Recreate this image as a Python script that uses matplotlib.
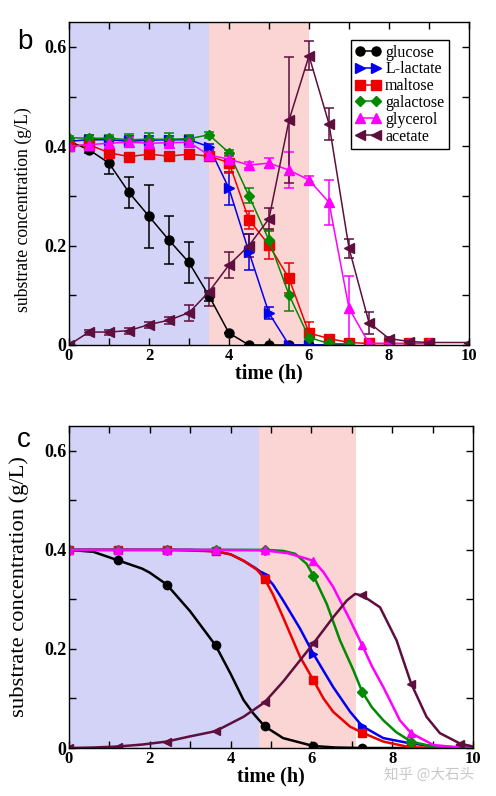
import numpy as np
import matplotlib
matplotlib.use('Agg')
import matplotlib.pyplot as plt
from matplotlib.lines import Line2D
from matplotlib.ticker import MultipleLocator, FuncFormatter

plt.rcParams['font.family'] = ['Liberation Serif', 'DejaVu Serif']

# ---- panel b: measured data (mean and error) ----
names = ['glucose', 'L-lactate', 'maltose', 'galactose', 'glycerol', 'acetate']
colors = ['black', '#0000ee', '#ee0000', '#008a00', '#ff00ff', '#5e0f3e']
markers = ['o', '>', 's', 'D', '^', '<']

t_glu = [0, 0.5, 1, 1.5, 2, 2.5, 3, 3.5, 4, 4.5, 5, 5.5, 6, 6.5, 7]
glucose = [0.41, 0.393, 0.366, 0.307, 0.259, 0.211, 0.166, 0.099, 0.024, 0, 0, 0, 0, 0, 0]
glucose_err = [0.005, 0.006, 0.021, 0.031, 0.063, 0.048, 0.041, 0.01, 0, 0, 0, 0, 0, 0, 0]

t_lac = [0, 0.5, 1, 1.5, 2, 2.5, 3, 3.5, 4, 4.5, 5, 5.5, 6, 6.5, 7]
lactate = [0.41, 0.413, 0.413, 0.41, 0.412, 0.413, 0.413, 0.399, 0.315, 0.187, 0.064, 0, 0, 0, 0]
lactate_err = [0.005, 0.01, 0.006, 0.01, 0.008, 0.008, 0.008, 0.006, 0.034, 0.037, 0.012, 0, 0, 0, 0]

t_mal = [0, 0.5, 1, 1.5, 2, 2.5, 3, 3.5, 4, 4.5, 5, 5.5, 6, 6.5, 7, 7.5, 8, 8.5, 9]
maltose = [0.40, 0.403, 0.387, 0.379, 0.384, 0.380, 0.384, 0.380, 0.367, 0.252, 0.201, 0.134,
           0.024, 0.013, 0.005, 0.003, 0.003, 0.003, 0.003]
maltose_err = [0.004, 0.005, 0.006, 0.008, 0.006, 0.005, 0.005, 0.006, 0.02, 0.018, 0.028, 0.03,
               0.023, 0.008, 0.003, 0, 0, 0, 0]

t_gal = [0, 0.5, 1, 1.5, 2, 2.5, 3, 3.5, 4, 4.5, 5, 5.5, 6, 6.5, 7]
galactose = [0.417, 0.416, 0.416, 0.413, 0.414, 0.414, 0.415, 0.423, 0.387, 0.300, 0.211, 0.101,
             0.015, 0.003, 0.002]
galactose_err = [0.004, 0.006, 0.006, 0.012, 0.012, 0.012, 0.008, 0.006, 0.006, 0.015, 0.02, 0.032,
                 0.006, 0, 0]

t_gly = [0, 0.5, 1, 1.5, 2, 2.5, 3, 3.5, 4, 4.5, 5, 5.5, 6, 6.5, 7, 7.5, 8, 8.5, 9]
glycerol = [0.40, 0.403, 0.406, 0.408, 0.406, 0.407, 0.408, 0.382, 0.374, 0.362, 0.366, 0.352,
            0.332, 0.287, 0.074, 0.003, 0.003, 0.003, 0.003]
glycerol_err = [0.004, 0.005, 0.006, 0.01, 0.008, 0.008, 0.006, 0.005, 0.006, 0.006, 0.01, 0.036,
                0.008, 0.046, 0.065, 0, 0, 0, 0]

t_ace = [0, 0.5, 1, 1.5, 2, 2.5, 3, 3.5, 4, 4.5, 5, 5.5, 6, 6.5, 7, 7.5, 8, 8.5, 9, 10]
acetate = [0, 0.026, 0.026, 0.029, 0.041, 0.050, 0.065, 0.107, 0.161, 0.200, 0.254, 0.452,
           0.582, 0.445, 0.195, 0.045, 0.013, 0.007, 0.005, 0.005]
acetate_err = [0, 0.005, 0.005, 0.006, 0.006, 0.007, 0.016, 0.028, 0.026, 0.023, 0.021, 0.127,
               0.029, 0.032, 0.019, 0.022, 0.004, 0, 0, 0]

meas = [(t_glu, glucose, glucose_err), (t_lac, lactate, lactate_err), (t_mal, maltose, maltose_err),
        (t_gal, galactose, galactose_err), (t_gly, glycerol, glycerol_err), (t_ace, acetate, acetate_err)]

# ---- panel c: model curves, markers every 1.21 h ----
t_marks = [0, 1.21, 2.42, 3.63, 4.84, 6.05, 7.26, 8.47, 9.68]

mt_glucose = [0, 0.605, 1.21, 1.815, 2.0, 2.42, 3.0, 3.63, 4.0, 4.32, 4.56, 4.84, 5.3, 6.05, 6.6,
              7.26, 8.47, 9.68, 10]
m_glucose = [0.40, 0.396, 0.379, 0.362, 0.354, 0.330, 0.276, 0.207, 0.150, 0.097, 0.070, 0.044,
             0.020, 0.004, 0.001, 0, 0, 0, 0]

mt_lactate = [0, 1.21, 2.42, 3.0, 3.63, 4.0, 4.32, 4.6, 4.84, 5.05, 5.3, 5.72, 6.05, 6.54, 6.96,
              7.26, 7.78, 8.47, 9.0, 9.68, 10]
m_lactate = [0.40, 0.40, 0.40, 0.40, 0.397, 0.391, 0.378, 0.364, 0.350, 0.330, 0.298, 0.241, 0.190,
             0.123, 0.073, 0.044, 0.020, 0.009, 0.004, 0.001, 0]

mt_maltose = [0, 1.21, 2.42, 3.63, 4.0, 4.32, 4.65, 4.84, 5.05, 5.3, 5.72, 6.05, 6.3, 6.54, 6.96,
              7.26, 7.78, 8.47, 9.68, 10]
m_maltose = [0.40, 0.40, 0.40, 0.397, 0.391, 0.378, 0.360, 0.342, 0.310, 0.264, 0.184, 0.137, 0.100,
             0.073, 0.043, 0.031, 0.013, 0.001, 0, 0]

mt_galactose = [0, 1.21, 2.42, 3.63, 4.84, 5.3, 5.6, 5.88, 6.05, 6.38, 6.71, 7.04, 7.26, 7.5, 7.78,
                8.1, 8.47, 9.0, 9.68, 10]
m_galactose = [0.40, 0.40, 0.40, 0.40, 0.40, 0.398, 0.392, 0.372, 0.348, 0.291, 0.217, 0.157, 0.113,
               0.082, 0.056, 0.032, 0.013, 0.003, 0, 0]

mt_glycerol = [0, 1.21, 2.42, 3.63, 4.84, 5.43, 5.72, 6.05, 6.3, 6.54, 6.96, 7.26, 7.5, 7.78, 8.19,
               8.47, 9.02, 9.68, 10]
m_glycerol = [0.40, 0.40, 0.40, 0.40, 0.399, 0.393, 0.386, 0.378, 0.355, 0.325, 0.258, 0.207, 0.165,
              0.123, 0.056, 0.030, 0.006, 0.001, 0]

mt_acetate = [0, 0.605, 1.21, 1.815, 2.42, 2.97, 3.63, 4.32, 4.84, 5.3, 5.72, 6.05, 6.54, 6.88, 7.08,
              7.26, 7.7, 8.11, 8.47, 8.85, 9.18, 9.68, 10]
m_acetate = [0, 0.001, 0.003, 0.007, 0.013, 0.023, 0.034, 0.063, 0.092, 0.134, 0.177, 0.211, 0.264,
             0.298, 0.311, 0.308, 0.284, 0.217, 0.130, 0.063, 0.030, 0.009, 0.003]

model = [(mt_glucose, m_glucose), (mt_lactate, m_lactate), (mt_maltose, m_maltose),
         (mt_galactose, m_galactose), (mt_glycerol, m_glycerol), (mt_acetate, m_acetate)]

fig = plt.figure(figsize=(4.96, 7.96), dpi=100)
ax1 = fig.add_axes([0.139, 0.5666, 0.8066, 0.4058])
ax2 = fig.add_axes([0.139, 0.0603, 0.8146, 0.4045])


def fmt(v, pos):
    if abs(v) < 1e-9:
        return '0'
    return '%g' % v


def style(ax, ysize):
    ax.set_xlim(0, 10)
    ax.set_ylim(0, 0.65)
    ax.xaxis.set_major_locator(MultipleLocator(2))
    ax.xaxis.set_minor_locator(MultipleLocator(1))
    ax.yaxis.set_major_locator(MultipleLocator(0.2))
    ax.yaxis.set_minor_locator(MultipleLocator(0.1))
    ax.yaxis.set_major_formatter(FuncFormatter(fmt))
    ax.tick_params(which='both', direction='in', top=True, right=True, length=5, width=1, pad=2)
    for lab in ax.get_xticklabels():
        lab.set_fontproperties({'family': 'Liberation Serif', 'weight': 'bold', 'size': 12})
    for lab in ax.get_yticklabels():
        lab.set_fontproperties({'family': 'Liberation Serif', 'weight': 'bold', 'size': 13})
    for s in ax.spines.values():
        s.set_linewidth(1.0)
    ax.set_xlabel('time (h)', fontsize=14.5, fontweight='bold', labelpad=0)
    ax.set_ylabel('substrate concentration (g/L)', fontsize=ysize)


# panel b
ax1.axvspan(0, 3.5, color='#d3d3f7', lw=0, zorder=0)
ax1.axvspan(3.5, 6.0, color='#fbd4d4', lw=0, zorder=0)
handles = []
for (t, y, e), c, m, n in zip(meas, colors, markers, names):
    ms = 5 if m == 'D' else 6.5
    ax1.errorbar(t, y, yerr=e, color=c, marker=m, markersize=ms, lw=1.1, elinewidth=1.1,
                 capsize=3.5, capthick=1.1)
    handles.append(Line2D([], [], color=c, marker=m, markersize=ms, lw=1.1, label=n))
style(ax1, 12.8)
ax1.yaxis.set_label_coords(-0.092, 0.42)
leg = ax1.legend(handles=handles, loc='upper right', bbox_to_anchor=(0.95, 0.945), fontsize=11.5,
                 numpoints=2, handlelength=1.6, handletextpad=0.25, labelspacing=0.05,
                 borderpad=0.3, borderaxespad=0, fancybox=False, framealpha=1, edgecolor='black')
leg.get_frame().set_linewidth(1.0)
fig.text(0.035, 0.939, 'b', fontsize=20, family='Liberation Sans')

# panel c
ax2.axvspan(0, 4.7, color='#d3d3f7', lw=0, zorder=0)
ax2.axvspan(4.7, 7.1, color='#fbd4d4', lw=0, zorder=0)
for (t, y), c, m in zip(model, colors, markers):
    ms = 5 if m == 'D' else 6
    idx = [i for i, v in enumerate(t) if any(abs(v - k) < 1e-6 for k in t_marks)]
    ax2.plot(t, y, color=c, lw=1.8, marker=m, markersize=ms, markevery=idx)
style(ax2, 16.2)
ax2.yaxis.set_label_coords(-0.098, 0.5)
fig.text(0.035, 0.439, 'c', fontsize=20, family='Liberation Sans')

fig.text(0.775, 0.021, '知乎 @大石头', fontsize=10.5, color='#c8c8c8',
         family=['Noto Sans CJK SC', 'DejaVu Sans'])

fig.savefig('out.png', dpi=100)
